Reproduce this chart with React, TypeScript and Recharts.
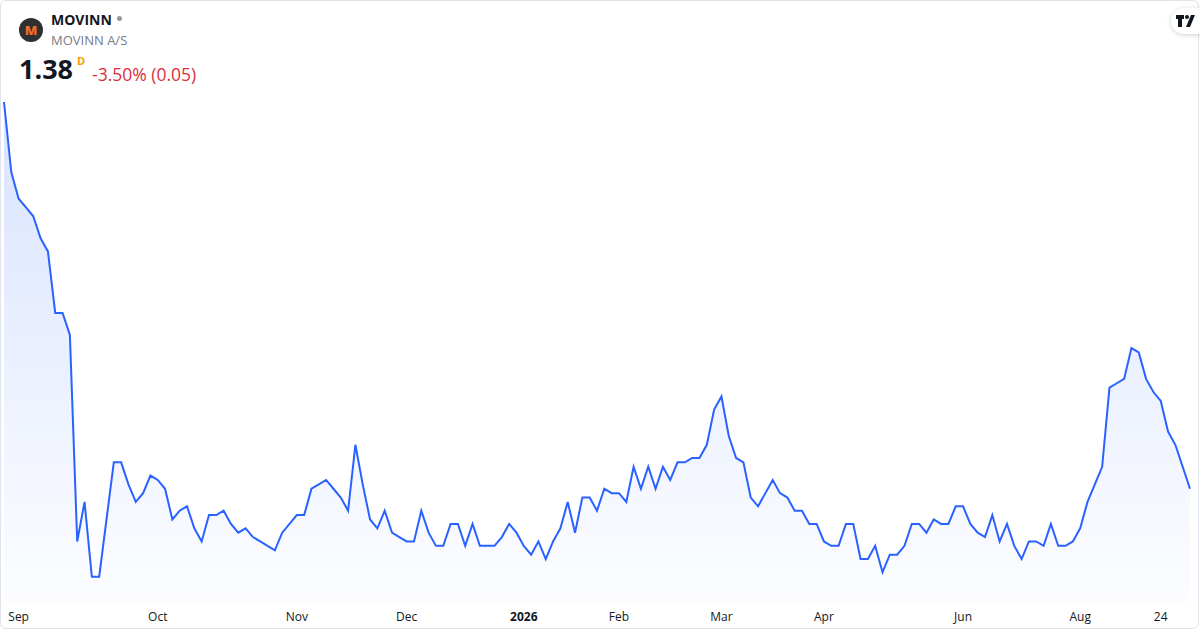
import { AreaChart, Area, XAxis, YAxis } from "recharts"

// daily closes (one per trading day shown)
const prices = [
  2.26, 2.1, 2.04, 2.02, 2.0, 1.95, 1.92, 1.78, 1.78, 1.73,
  1.26, 1.35, 1.18, 1.18, 1.31, 1.44, 1.44, 1.39, 1.35, 1.37,
  1.41, 1.4, 1.38, 1.31, 1.33, 1.34, 1.29, 1.26, 1.32, 1.32,
  1.33, 1.3, 1.28, 1.29, 1.27, 1.26, 1.25, 1.24, 1.28, 1.3,
  1.32, 1.32, 1.38, 1.39, 1.4, 1.38, 1.36, 1.33, 1.48, 1.39,
  1.31, 1.29, 1.33, 1.28, 1.27, 1.26, 1.26, 1.33, 1.28, 1.25,
  1.25, 1.3, 1.3, 1.25, 1.3, 1.25, 1.25, 1.25, 1.27, 1.3,
  1.28, 1.25, 1.23, 1.26, 1.22, 1.26, 1.29, 1.35, 1.28, 1.36,
  1.36, 1.33, 1.38, 1.37, 1.37, 1.35, 1.43, 1.38, 1.43, 1.38,
  1.43, 1.4, 1.44, 1.44, 1.45, 1.45, 1.48, 1.56, 1.59, 1.5,
  1.45, 1.44, 1.36, 1.34, 1.37, 1.4, 1.37, 1.36, 1.33, 1.33,
  1.3, 1.3, 1.26, 1.25, 1.25, 1.3, 1.3, 1.22, 1.22, 1.25,
  1.19, 1.23, 1.23, 1.25, 1.3, 1.3, 1.28, 1.31, 1.3, 1.3,
  1.34, 1.34, 1.3, 1.28, 1.27, 1.32, 1.26, 1.3, 1.25, 1.22,
  1.26, 1.26, 1.25, 1.3, 1.25, 1.25, 1.26, 1.29, 1.35, 1.39,
  1.43, 1.61, 1.62, 1.63, 1.7, 1.69, 1.63, 1.6, 1.58, 1.51,
  1.48, 1.43, 1.38,
]

// bar index where each time label sits
const tickIndexes = [2, 21, 40, 55, 71, 84, 98, 112, 131, 147, 158]
const tickLabels = ["Sep", "Oct", "Nov", "Dec", "2026", "Feb", "Mar", "Apr", "Jun", "Aug", "24"]

const data = prices.map((price, i) => ({ i, price }))

const font = "'Open Sans', 'Noto Sans', sans-serif"

function DateTick({ x, y, payload }: any) {
  const label = tickLabels[tickIndexes.indexOf(payload.value)]
  return (
    <text
      x={x}
      y={y + 10}
      textAnchor="middle"
      fontSize={12}
      fontFamily={font}
      fontWeight={label === "2026" ? 700 : 400}
      fill="#131722"
    >
      {label}
    </text>
  )
}

export default function App() {
  return (
    <div
      style={{
        position: "relative",
        width: 1200,
        height: 630,
        background: "#fff",
        fontFamily: font,
        overflow: "hidden",
      }}
    >
      <style>{`body { margin: 0; }`}</style>
      <div
        style={{
          position: "absolute",
          left: 0,
          top: 0,
          width: 1199,
          height: 629,
          border: "1px solid #e0e3eb",
          borderRadius: 6,
          boxSizing: "border-box",
          pointerEvents: "none",
        }}
      />

      <AreaChart width={1200} height={630} data={data} margin={{ top: 102, right: 10, bottom: 0, left: 4 }}>
        <defs>
          <linearGradient id="priceFill" x1="0" y1="0" x2="0" y2="1">
            <stop offset="0%" stopColor="#2962FF" stopOpacity={0.3} />
            <stop offset="100%" stopColor="#2962FF" stopOpacity={0.02} />
          </linearGradient>
        </defs>
        <XAxis
          type="number"
          dataKey="i"
          domain={[0, prices.length - 1]}
          ticks={tickIndexes}
          interval={0}
          tick={DateTick}
          axisLine={false}
          tickLine={false}
          height={27}
        />
        <YAxis hide domain={[1.12, 2.26]} />
        <Area
          type="linear"
          dataKey="price"
          stroke="#2962FF"
          strokeWidth={2}
          fill="url(#priceFill)"
          dot={false}
          activeDot={false}
          isAnimationActive={false}
        />
      </AreaChart>

      {/* header */}
      <div
        style={{
          position: "absolute",
          left: 19,
          top: 18,
          width: 24,
          height: 24,
          borderRadius: 12,
          background: "#2f3032",
          color: "#f26c22",
          fontWeight: 800,
          fontSize: 13,
          lineHeight: "24px",
          textAlign: "center",
        }}
      >
        M
      </div>
      <div style={{ position: "absolute", left: 51, top: 10, fontSize: 14, fontWeight: 700, color: "#131722" }}>
        MOVINN
        <span
          style={{
            display: "inline-block",
            width: 5,
            height: 5,
            borderRadius: 3,
            background: "#9598a1",
            marginLeft: 5,
            verticalAlign: "middle",
            position: "relative",
            top: -3,
          }}
        />
      </div>
      <div style={{ position: "absolute", left: 51, top: 31, fontSize: 13, color: "#787b86" }}>MOVINN A/S</div>
      <div style={{ position: "absolute", left: 19, top: 50, fontSize: 27, fontWeight: 700, color: "#131722" }}>1.38</div>
      <div style={{ position: "absolute", left: 77, top: 53, fontSize: 11, fontWeight: 700, color: "#ff9800" }}>D</div>
      <div style={{ position: "absolute", left: 92, top: 62, fontSize: 17.5, color: "#d9303c" }}>-3.50% (0.05)</div>

      {/* watermark badge */}
      <div
        style={{
          position: "absolute",
          left: 1171,
          top: 8,
          width: 40,
          height: 26,
          borderRadius: 13,
          background: "#fff",
          boxShadow: "0 1px 5px rgba(0,0,0,0.18)",
        }}
      >
        <svg width={20} height={12} viewBox="0 0 20 12" style={{ position: "absolute", left: 5, top: 7 }}>
          <path d="M0 0h8v4H6v8H2V4H0z" fill="#131722" />
          <circle cx={11} cy={2} r={2} fill="#131722" />
          <path d="M15 0h4l-5 12h-4z" fill="#131722" />
        </svg>
      </div>
    </div>
  )
}
